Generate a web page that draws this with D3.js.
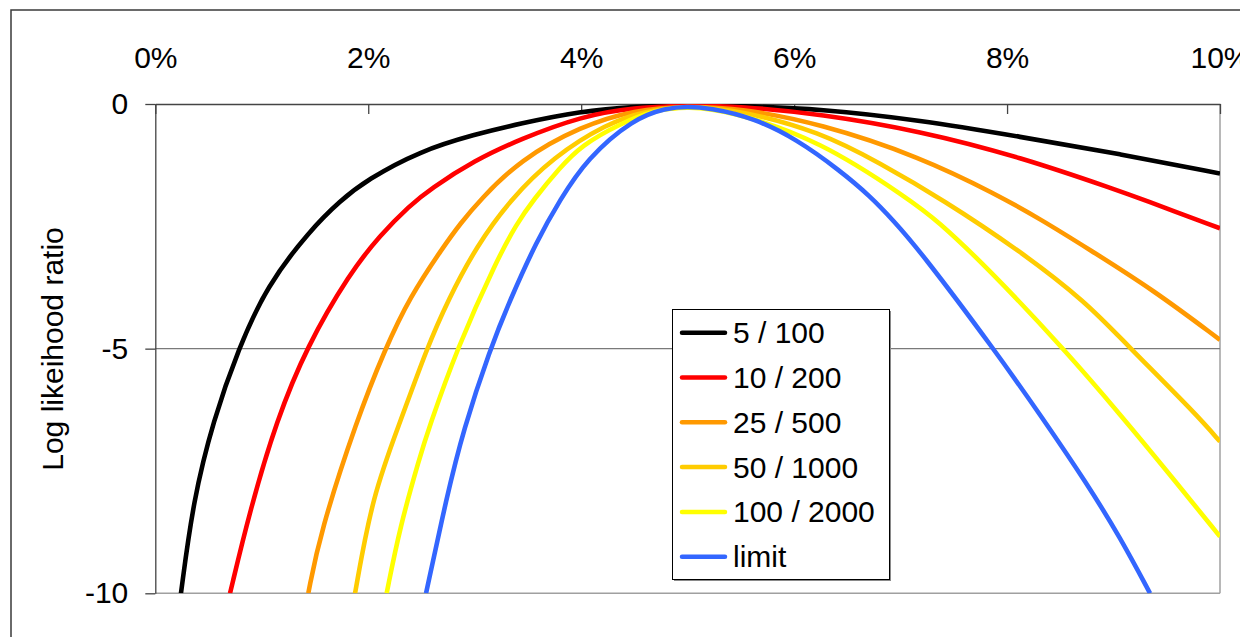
<!DOCTYPE html>
<html>
<head>
<meta charset="utf-8">
<script src="https://cdn.jsdelivr.net/npm/d3@7"></script>
<style>
  body { margin: 0; background: #fff; }
  text { font-family: "Liberation Sans", Arial, sans-serif; }
</style>
</head>
<body>
<div id="chart"></div>
<script>
// series names and colours
const seriesNames = ["5 / 100", "10 / 200", "25 / 500", "50 / 1000", "100 / 2000", "limit"];
const seriesColors = ["#000000", "#ff0000", "#ff9900", "#ffcc00", "#ffff00", "#3366ff"];

// [rate in %, log likelihood ratio]
const s5_100 = [[0.241,-10],[0.357,-8.09],[0.545,-6.46],[0.78,-5.01],[1.046,-3.72],[1.453,-2.58],[1.735,-1.98],
  [1.986,-1.55],[2.486,-0.96],[3.0,-0.62],[3.425,-0.4],[3.989,-0.15],[4.5,-0.05],[5,-0.03],[5.5,-0.04],
  [6.243,-0.1],[7.182,-0.33],[8.121,-0.67],[9.06,-1.02],[10,-1.42]];
const s10_200 = [[0.702,-10],[0.889,-8.3],[1.14,-6.46],[1.422,-4.96],[1.829,-3.45],[2.111,-2.68],[2.392,-2.07],
  [2.58,-1.74],[3.0,-1.15],[3.425,-0.72],[4.0,-0.25],[4.5,-0.07],[5,-0.03],[5.5,-0.05],[6.243,-0.2],[7.182,-0.55],
  [8.121,-1.08],[9.06,-1.78],[9.248,-1.93],[10,-2.54]];
const s25_500 = [[1.437,-10],[1.547,-8.77],[1.892,-6.46],[2.157,-5.01],[2.392,-3.94],[2.705,-2.92],[2.862,-2.45],
  [3.05,-1.96],[3.426,-1.14],[4.0,-0.45],[4.5,-0.12],[5,-0.04],[5.5,-0.09],[6.243,-0.4],[7.182,-1.08],
  [7.903,-1.85],[8.326,-2.37],[8.748,-2.94],[9.374,-3.8],[10,-4.82]];
const s50_1000 = [[1.876,-10],[2.04,-8.0],[2.3,-6.5],[2.549,-5.0],[2.75,-4.0],[3.019,-2.9],[3.331,-1.96],
  [3.738,-1.08],[4.24,-0.4],[4.6,-0.14],[5,-0.04],[5.5,-0.13],[6.243,-0.57],[6.8,-1.2],[7.401,-1.96],
  [8.121,-3.0],[8.748,-4.06],[9.092,-4.85],[9.781,-6.35],[10,-6.9]];
const s100_2000 = [[2.173,-10],[2.298,-8.64],[2.486,-7.2],[2.564,-6.66],[2.831,-5.01],[3.207,-3.19],[3.394,-2.45],
  [3.55,-1.96],[3.801,-1.3],[4.0,-0.85],[4.365,-0.4],[4.7,-0.12],[5,-0.05],[5.4,-0.14],[6.243,-0.74],
  [7.088,-1.96],[7.339,-2.37],[7.809,-3.33],[8.528,-4.99],[9.092,-6.42],[9.52,-7.55],[10,-8.84]];
const sLimit = [[2.543,-10],[2.737,-8.03],[2.893,-6.66],[3.144,-5.01],[3.331,-4.01],[3.582,-2.8],[3.801,-1.96],
  [4.052,-1.12],[4.49,-0.3],[4.8,-0.08],[5,-0.05],[5.2,-0.08],[5.617,-0.28],[6.024,-0.72],[6.431,-1.36],
  [6.713,-1.88],[6.932,-2.38],[7.182,-3.0],[7.871,-4.99],[8.34,-6.44],[8.748,-7.75],[9.06,-8.85],[9.343,-10]];

const allSeries = [s5_100, s10_200, s25_500, s50_1000, s100_2000, sLimit];

const xTicks = [0, 2, 4, 6, 8, 10];
const yTicks = [0, -5, -10];
const yTitle = "Log likeihood ratio";

const W = 1240, H = 637;
const plot = {left: 155.3, right: 1220, top: 104, bottom: 593.3};

const svg = d3.select("#chart").append("svg")
  .attr("width", W).attr("height", H);

svg.append("rect").attr("width", W).attr("height", H).attr("fill", "#fff");

// outer chart frame (runs off the page on the right and bottom)
svg.append("rect")
  .attr("x", 11).attr("y", 10)
  .attr("width", 1300).attr("height", 700)
  .attr("fill", "none").attr("stroke", "#3a3a3a").attr("stroke-width", 1.5);

const x = d3.scaleLinear().domain([0, 10]).range([plot.left, plot.right]);
const y = d3.scaleLinear().domain([-10, 0]).range([plot.bottom, plot.top]);

// plot area border right / bottom
svg.append("line")
  .attr("x1", plot.right).attr("x2", plot.right)
  .attr("y1", plot.top).attr("y2", plot.bottom)
  .attr("stroke", "#a0a0a0").attr("stroke-width", 1.5);
svg.append("line")
  .attr("x1", plot.left).attr("x2", plot.right)
  .attr("y1", plot.bottom).attr("y2", plot.bottom)
  .attr("stroke", "#a0a0a0").attr("stroke-width", 1.5);

// gridline at -5
svg.append("line")
  .attr("x1", plot.left).attr("x2", plot.right)
  .attr("y1", y(-5)).attr("y2", y(-5))
  .attr("stroke", "#7a7a7a").attr("stroke-width", 1.3);

// y axis
const yAxis = svg.append("g")
  .attr("transform", `translate(${plot.left},0)`)
  .call(d3.axisLeft(y).tickValues(yTicks).tickSize(10).tickSizeOuter(0).tickPadding(17)
    .tickFormat(d => String(d)));
yAxis.select(".domain").attr("stroke", "#444").attr("stroke-width", 1.3);
yAxis.selectAll(".tick line").attr("stroke", "#444").attr("stroke-width", 1.3);
yAxis.selectAll("text").attr("font-size", 30).attr("fill", "#000")
  .style("font-family", '"Liberation Sans", Arial, sans-serif');

// x axis along the top (at y = 0)
const xAxis = svg.append("g")
  .attr("transform", `translate(0,${plot.top})`)
  .call(d3.axisTop(x).tickValues(xTicks).tickSizeInner(-10).tickSizeOuter(0).tickPadding(36)
    .tickFormat(d => d + "%"));
xAxis.select(".domain").attr("stroke", "#444").attr("stroke-width", 1.5);
xAxis.selectAll(".tick line").attr("stroke", "#444").attr("stroke-width", 1.3);
xAxis.selectAll("text").attr("font-size", 30).attr("fill", "#000")
  .style("font-family", '"Liberation Sans", Arial, sans-serif');

// y axis title
svg.append("text")
  .attr("transform", `translate(63,349) rotate(-90)`)
  .attr("text-anchor", "middle")
  .attr("font-size", 30)
  .text(yTitle);

// curves, clipped to the plot area
svg.append("clipPath").attr("id", "clip")
  .append("rect")
  .attr("x", plot.left).attr("y", plot.top)
  .attr("width", plot.right - plot.left).attr("height", plot.bottom - plot.top);

const line = d3.line()
  .x(d => x(d[0]))
  .y(d => y(d[1]))
  .curve(d3.curveBasis);

svg.append("g").attr("clip-path", "url(#clip)")
  .selectAll("path")
  .data(allSeries)
  .enter()
  .append("path")
  .attr("fill", "none")
  .attr("stroke", (d, i) => seriesColors[i])
  .attr("stroke-width", 4.6)
  .attr("stroke-linejoin", "round")
  .attr("d", line);

// legend
const lg = svg.append("g");
lg.append("rect")
  .attr("x", 674).attr("y", 311).attr("width", 217).attr("height", 270)
  .attr("fill", "#8a8a8a");
lg.append("rect")
  .attr("x", 672.5).attr("y", 309.5).attr("width", 217).attr("height", 270)
  .attr("fill", "#fff").attr("stroke", "#000").attr("stroke-width", 1);

const rows = lg.selectAll("g.row")
  .data(seriesNames)
  .enter()
  .append("g")
  .attr("transform", (d, i) => `translate(0,${332.7 + i * 44.8})`);
rows.append("line")
  .attr("x1", 682).attr("x2", 725)
  .attr("stroke", (d, i) => seriesColors[i])
  .attr("stroke-width", 4.5)
  .attr("stroke-linecap", "round");
rows.append("text")
  .attr("x", 733)
  .attr("dy", "0.35em")
  .attr("font-size", 30)
  .text(d => d);
</script>
</body>
</html>
